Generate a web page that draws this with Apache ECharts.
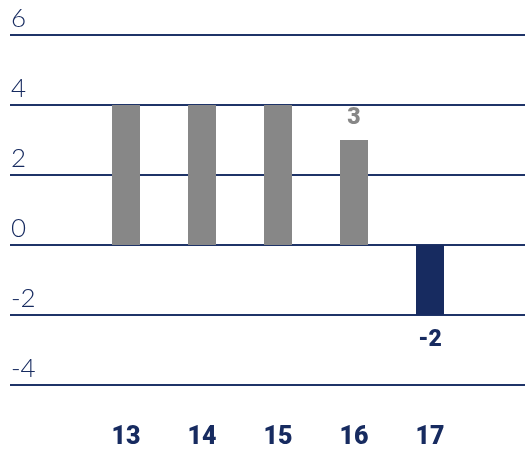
<!DOCTYPE html>
<html><head><meta charset="utf-8">
<script src="https://cdn.jsdelivr.net/npm/echarts@6/dist/echarts.min.js"></script>
<style>html,body{margin:0;padding:0;background:#fff}#c{width:525px;height:451px}</style>
</head><body><div id="c"></div>
<script>
const categories = ['13','14','15','16','17'];
const values = [4, 4, 4, 3, -2];
const showLabel = [false, false, false, true, true];
const yTicks = [-4, -2, 0, 2, 4, 6];

const NAVY = '#172b60';
const GRAY = '#878787';

const chart = echarts.init(document.getElementById('c'));
chart.setOption({
  animation: false,
  grid: [
    {left: 10, right: 0, top: 35, height: 350},
    {left: 88, right: 57, top: 35, height: 350}
  ],
  xAxis: [
    {gridIndex: 0, type: 'category', data: categories, show: false},
    {gridIndex: 1, type: 'category', data: categories,
     axisLine: {show: false, onZero: false}, axisTick: {show: false},
     axisLabel: {color: NAVY, fontFamily: 'Roboto', fontWeight: 900, fontSize: 25, margin: 40}}
  ],
  yAxis: [
    {gridIndex: 0, type: 'value', min: yTicks[0], max: yTicks[yTicks.length-1], interval: 2,
     axisLine: {show: false}, axisTick: {show: false},
     splitLine: {lineStyle: {color: '#1f3468', width: 2}},
     axisLabel: {inside: true, margin: 1, verticalAlign: 'bottom', padding: [0,0,3,0],
       color: NAVY, fontFamily: 'Lato', fontWeight: 300, fontSize: 26}},
    {gridIndex: 1, type: 'value', min: yTicks[0], max: yTicks[yTicks.length-1], interval: 2,
     show: false, splitLine: {show: false}}
  ],
  series: [{
    type: 'bar', xAxisIndex: 1, yAxisIndex: 1, barWidth: 28,
    data: values.map((v, i) => ({
      value: v,
      itemStyle: {color: v < 0 ? NAVY : GRAY},
      label: {show: showLabel[i], position: v < 0 ? 'bottom' : 'top', distance: v < 0 ? 14 : 10,
        color: v < 0 ? NAVY : GRAY, fontFamily: 'Roboto', fontWeight: 900, fontSize: 23}
    }))
  }]
});
</script></body></html>
